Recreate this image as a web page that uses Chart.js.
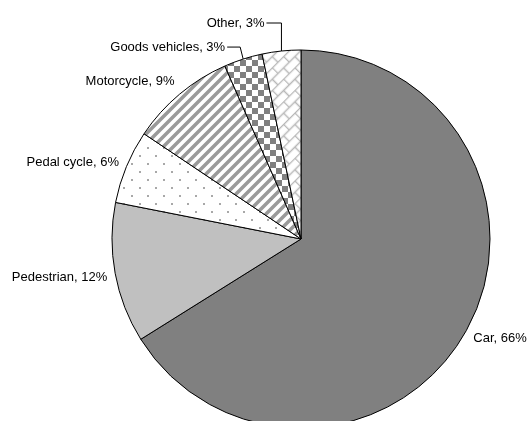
<!DOCTYPE html>
<html>
<head>
<meta charset="utf-8">
<script src="https://cdn.jsdelivr.net/npm/chart.js@4"></script>
<style>
  html, body { margin: 0; padding: 0; background: #fff; overflow: hidden; height: 421px; }
  #wrap { width: 528px; height: 440px; }
</style>
</head>
<body>
<div id="wrap"><canvas id="roadChart" width="528" height="440"></canvas></div>
<script>
// shares of casualties by road user type, clockwise from 12 o'clock
const categories = ["Car", "Pedestrian", "Pedal cycle", "Motorcycle", "Goods vehicles", "Other"];
const shares = [66.1, 12.0, 6.3, 9.0, 3.3, 3.3];
const shownPct = [66, 12, 6, 9, 3, 3];

function makePattern(size, draw, rotate) {
  const c = document.createElement("canvas");
  c.width = size[0];
  c.height = size[1];
  const g = c.getContext("2d");
  g.fillStyle = "#fff";
  g.fillRect(0, 0, c.width, c.height);
  draw(g, c.width, c.height);
  const p = document.getElementById("roadChart").getContext("2d").createPattern(c, "repeat");
  if (rotate) p.setTransform(new DOMMatrix().rotate(rotate));
  return p;
}

// pedal cycle: sparse grey dots
const dots = makePattern([16, 16], (g) => {
  g.fillStyle = "#a8a8a8";
  g.fillRect(3, 3, 2, 2);
  g.fillRect(11, 11, 2, 2);
});

// motorcycle: wide diagonal stripes
const stripes = makePattern([10, 10], (g, w, h) => {
  g.strokeStyle = "#9a9a9a";
  g.lineWidth = 3.5;
  g.beginPath();
  g.moveTo(-2, h + 2); g.lineTo(w + 2, -2);
  g.moveTo(-2, 2); g.lineTo(2, -2);
  g.moveTo(w - 2, h + 2); g.lineTo(w + 2, h - 2);
  g.stroke();
});

// goods vehicles: checkerboard
const checks = makePattern([12, 12], (g) => {
  g.fillStyle = "#808080";
  g.fillRect(0, 0, 6, 6);
  g.fillRect(6, 6, 6, 6);
});

// other: diagonal brick
const bricks = makePattern([16, 16], (g) => {
  g.strokeStyle = "#b8b8b8";
  g.lineWidth = 1.5;
  g.beginPath();
  g.moveTo(0, 0.5); g.lineTo(16, 0.5);
  g.moveTo(0, 8.5); g.lineTo(16, 8.5);
  g.moveTo(0.5, 0); g.lineTo(0.5, 8);
  g.moveTo(8.5, 8); g.lineTo(8.5, 16);
  g.stroke();
}, -45);

const fills = ["#808080", "#c0c0c0", dots, stripes, checks, bricks];

// leader lines for the thin slices, label nudges for the rest
const leaders = { 4: { dx: -3, dy: -12, run: 13 }, 5: { dx: 0, dy: -28, run: 15 } };
const nudges = [4, 3, -1.5, -7, 0, 0];

const sliceLabels = {
  id: "sliceLabels",
  afterDatasetsDraw(chart) {
    const ctx = chart.ctx;
    const arcs = chart.getDatasetMeta(0).data;
    ctx.save();
    ctx.font = '13px "Liberation Sans", Arial, sans-serif';
    ctx.fillStyle = "#000";
    ctx.strokeStyle = "#000";
    ctx.lineWidth = 1;
    ctx.textBaseline = "middle";
    arcs.forEach((arc, i) => {
      const { x, y, startAngle, endAngle, outerRadius } =
        arc.getProps(["x", "y", "startAngle", "endAngle", "outerRadius"], true);
      const mid = (startAngle + endAngle) / 2;
      const text = `${categories[i]}, ${shownPct[i]}%`;
      const ex = x + Math.cos(mid) * outerRadius;
      const ey = y + Math.sin(mid) * outerRadius;
      const lead = leaders[i];
      if (lead) {
        const bx = ex + lead.dx, by = ey + lead.dy;
        ctx.beginPath();
        ctx.moveTo(ex, ey);
        ctx.lineTo(bx, by);
        ctx.lineTo(bx - lead.run, by);
        ctx.stroke();
        ctx.textAlign = "right";
        ctx.fillText(text, bx - lead.run - 2, by);
      } else {
        const lx = x + Math.cos(mid) * (outerRadius + 8);
        const ly = y + Math.sin(mid) * (outerRadius + 8) + nudges[i];
        ctx.textAlign = Math.cos(mid) >= 0 ? "left" : "right";
        ctx.fillText(text, lx, ly);
      }
    });
    ctx.restore();
  }
};

new Chart(document.getElementById("roadChart"), {
  type: "pie",
  data: {
    labels: categories,
    datasets: [{
      data: shares,
      backgroundColor: fills,
      borderColor: "#000",
      borderWidth: 1,
    }],
  },
  options: {
    responsive: false,
    animation: false,
    devicePixelRatio: 1,
    layout: { padding: { top: 49.5, left: 111.5, right: 37.5, bottom: 11.5 } },
    plugins: {
      legend: { display: false },
      tooltip: { enabled: false },
    },
  },
  plugins: [sliceLabels],
});
</script>
</body>
</html>
